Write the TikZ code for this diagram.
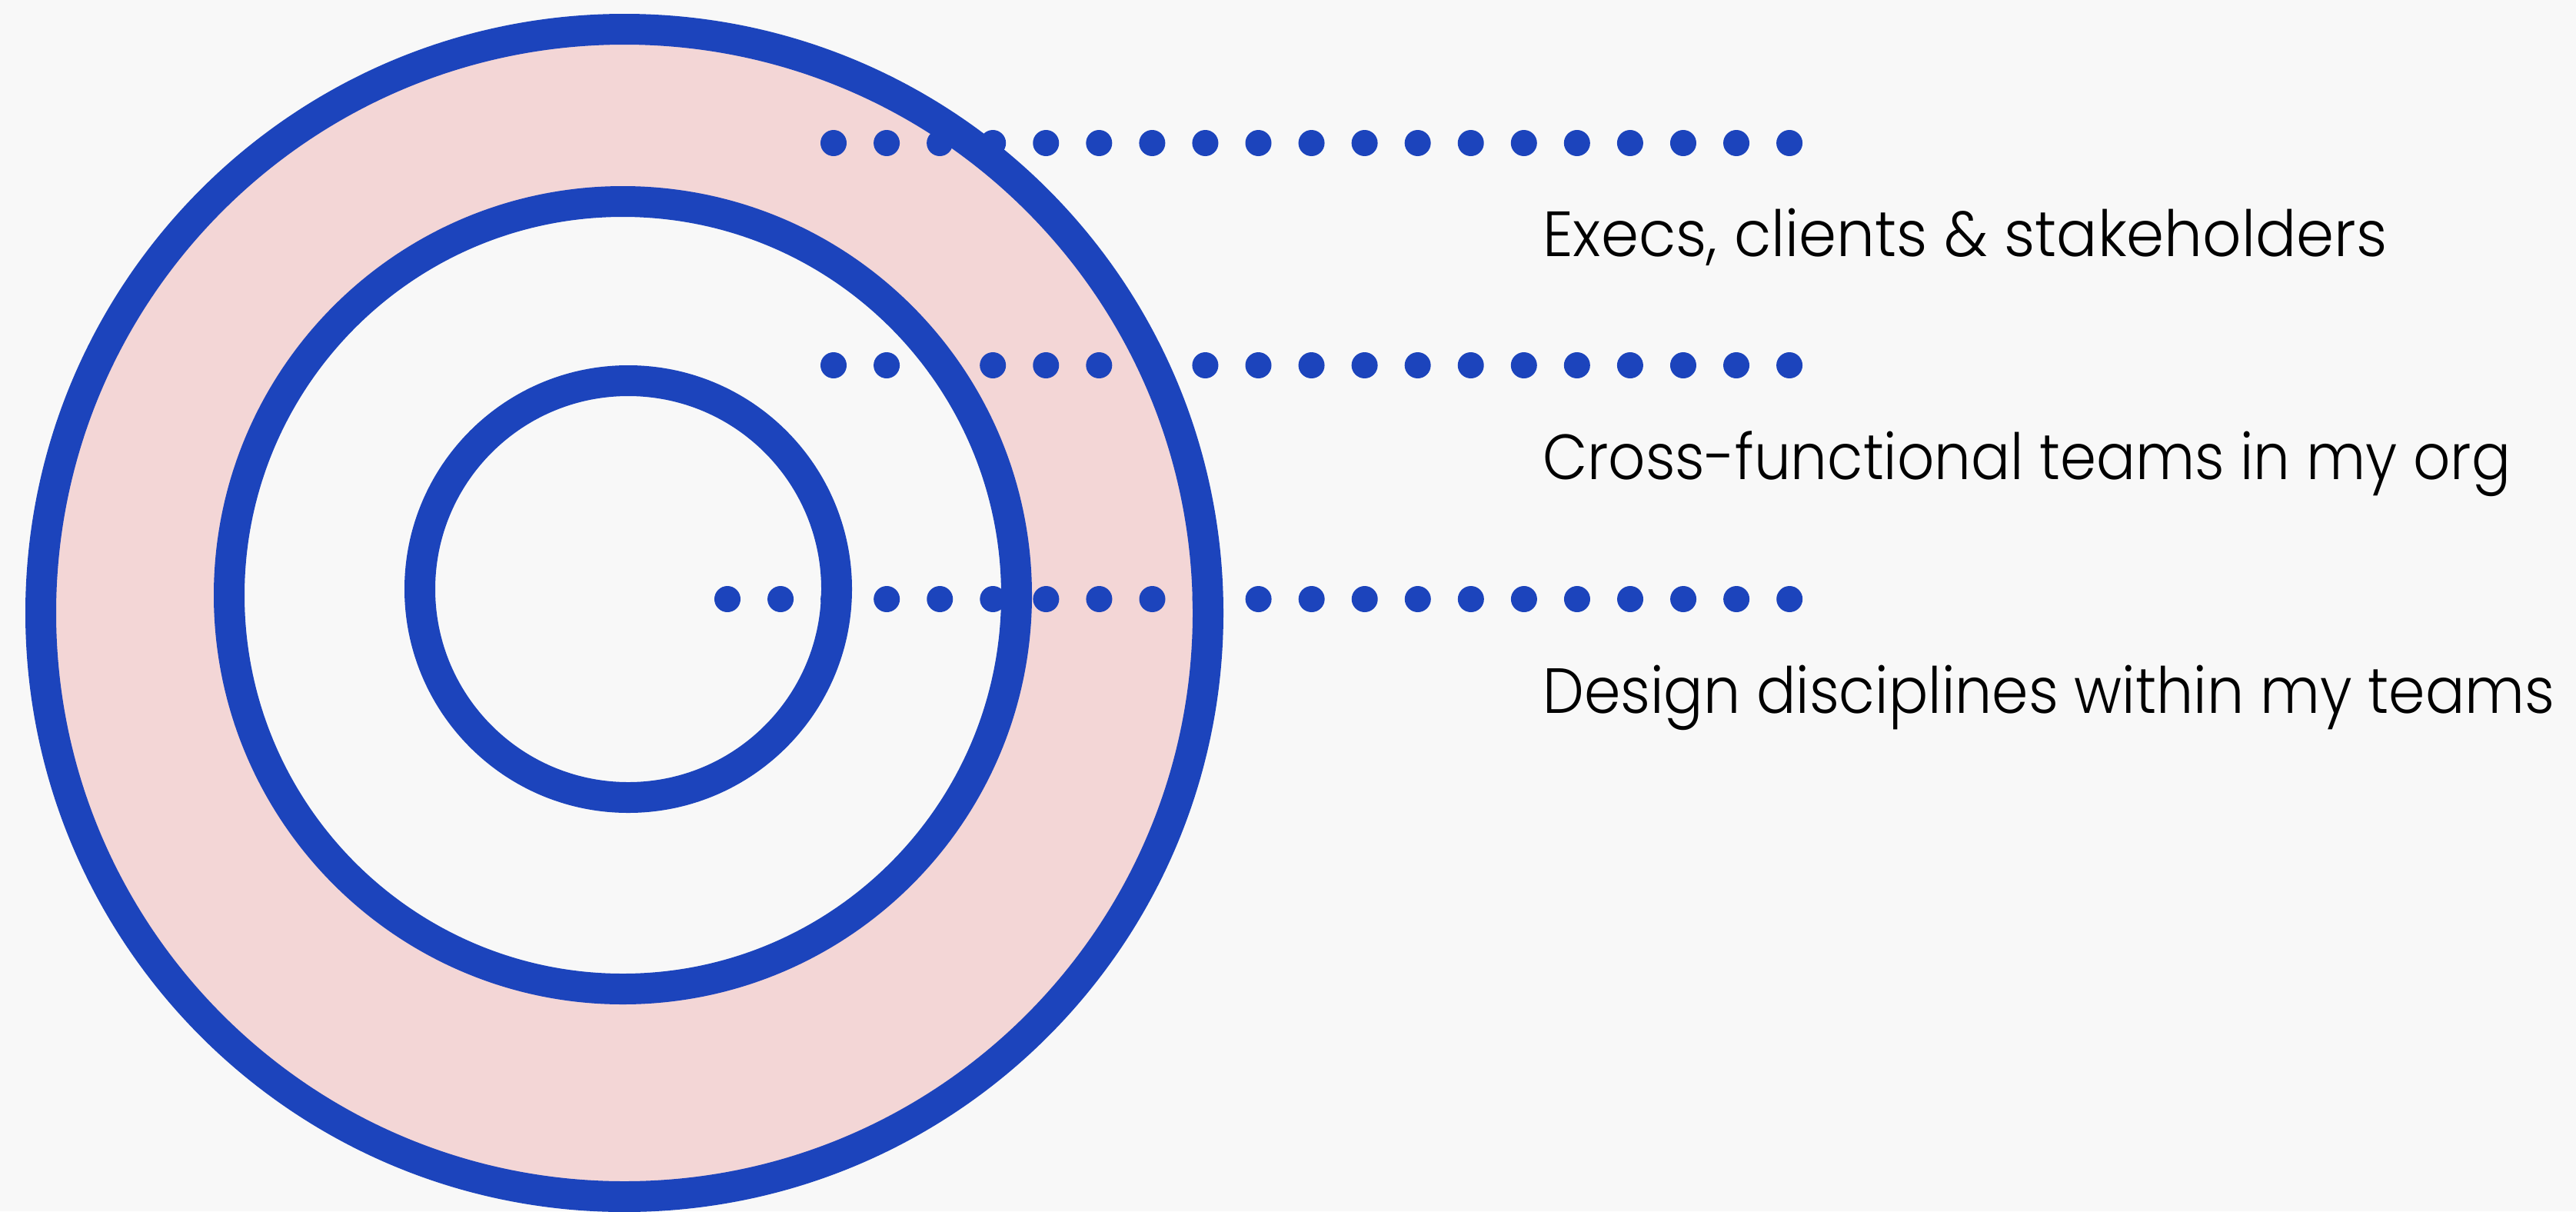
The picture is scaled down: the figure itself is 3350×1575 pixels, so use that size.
\documentclass[tikz,border=0pt]{standalone}
\usepackage{fontspec}
\setmainfont{Poppins Light}
\newfontfamily\lblfontA{Poppins Light}[FakeStretch=0.95]
\newfontfamily\lblfontB{Poppins Light}[FakeStretch=0.91]
\newfontfamily\lblfontC{Poppins Light}[FakeStretch=0.918]
\definecolor{ringblue}{HTML}{1C44BC}
\definecolor{ringpink}{HTML}{F3D6D6}
\definecolor{bgcol}{HTML}{F8F8F8}
\begin{document}
\begin{tikzpicture}[x=1pt,y=-1pt,
  ring/.style={draw=ringblue,line width=40pt},
  dotmark/.style={fill=ringblue},
  lbl/.style={anchor=base west,inner sep=0pt,text=black}]
\fill[bgcol] (0,0) rectangle (3350,1575);
\useasboundingbox (0,0) rectangle (3350,1575);
% fills
\fill[ringpink] (812,797) circle[radius=759pt];
\fill[bgcol] (810,774) circle[radius=512pt];
% dotted leader rows
\foreach \i in {0,...,18} {\fill[dotmark] ({1084+69.06*\i},186) circle[radius=17pt];}
\foreach \i in {0,...,18} {\fill[dotmark] ({1084+69.06*\i},475) circle[radius=17pt];}
\foreach \i in {0,...,20} {\fill[dotmark] ({946+69.06*\i},779) circle[radius=17pt];}
% rings
\draw[ring] (812,797) circle[radius=759pt];
\draw[ring] (810,774) circle[radius=512pt];
\draw[ring] (817,766) circle[radius=271pt];
% labels
\node[lbl,font=\lblfontA\fontsize{83}{90}\selectfont] (execs) at (2006,333) {Execs, clients \& stakeholders};
\node[lbl,font=\lblfontB\fontsize{83}{90}\selectfont] (cross) at (2006,623) {Cross-functional teams in my org};
\node[lbl,font=\lblfontC\fontsize{83}{90}\selectfont] (design) at (2006,927) {Design disciplines within my teams};
\end{tikzpicture}
\end{document}
